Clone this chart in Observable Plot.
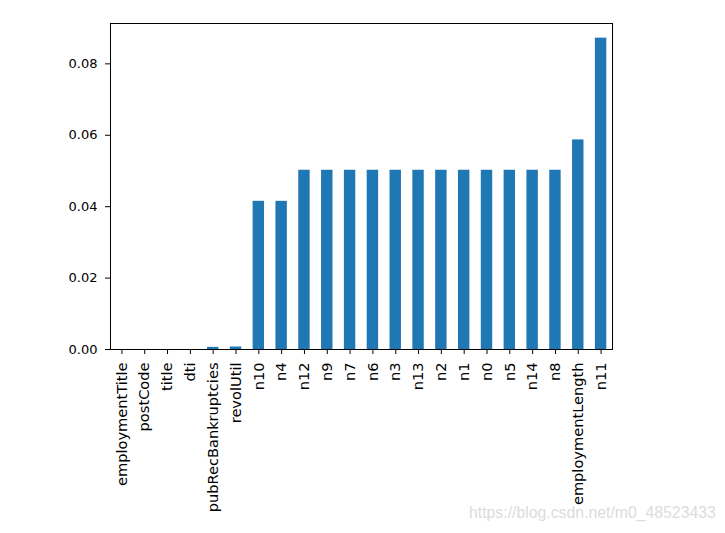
<!DOCTYPE html>
<html>
<head>
<meta charset="utf-8">
<script src="https://cdn.jsdelivr.net/npm/d3@7"></script>
<script src="https://cdn.jsdelivr.net/npm/@observablehq/plot@0.6"></script>
<style>
  html, body { margin: 0; padding: 0; background: #fff; }
  #wrap { position: relative; width: 725px; height: 533px; }
  #wm { position: absolute; left: 469px; top: 504px; font-family: "Liberation Sans", Arial, sans-serif; font-size: 15.8px; color: #dcdcdc; white-space: nowrap; }
</style>
</head>
<body>
<div id="wrap"><div id="wm">https://blog.csdn.net/m0_48523433</div></div>
<script>
const categories = ["employmentTitle","postCode","title","dti","pubRecBankruptcies","revolUtil","n10","n4","n12","n9","n7","n6","n3","n13","n2","n1","n0","n5","n14","n8","employmentLength","n11"];
const values = [0.0000, 0.0000, 0.0000, 0.0000, 0.0006, 0.0007, 0.0415, 0.0415, 0.0502, 0.0502, 0.0502, 0.0502, 0.0502, 0.0502, 0.0502, 0.0502, 0.0502, 0.0502, 0.0502, 0.0502, 0.0587, 0.0872];
const yTicks = [0, 0.02, 0.04, 0.06, 0.08];

const data = categories.map((c, i) => ({name: c, value: values[i]}));

const chart = Plot.plot({
  width: 725,
  height: 533,
  marginLeft: 110,
  marginRight: 113,
  marginTop: 23,
  marginBottom: 184,
  style: {fontFamily: "'DejaVu Sans', sans-serif", fontSize: "13px", color: "#000", background: "#fff"},
  x: {domain: categories, paddingInner: 0.5, paddingOuter: 0.25, round: false, label: null},
  y: {domain: [0, 0.0913], label: null},
  marks: [
    Plot.barY(data, {x: "name", y: "value", fill: "#1f77b4"}),
    Plot.axisX({tickRotate: -90, tickSize: 5, tickPadding: 8, fontSize: 14.6, label: null, stroke: "#000"}),
    Plot.axisY({ticks: yTicks, tickFormat: d3.format(".2f"), tickSize: 5, tickPadding: 8, fontSize: 13, label: null, stroke: "#000"}),
    Plot.frame({stroke: "#000", strokeWidth: 1})
  ]
});
document.getElementById("wrap").prepend(chart);
</script>
</body>
</html>
